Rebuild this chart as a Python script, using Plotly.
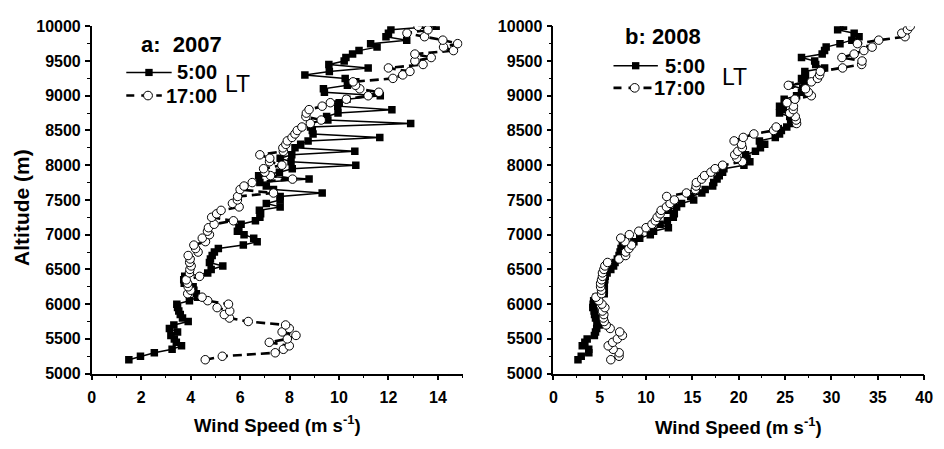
import plotly.graph_objects as go

altitude = [5200, 5250, 5300, 5350, 5400, 5450, 5500, 5550, 5600, 5650,
            5700, 5750, 5800, 5850, 5900, 5950, 6000, 6050, 6100, 6150,
            6200, 6250, 6300, 6350, 6400, 6450, 6500, 6550, 6600, 6650,
            6700, 6750, 6800, 6850, 6900, 6950, 7000, 7050, 7100, 7150,
            7200, 7250, 7300, 7350, 7400, 7450, 7500, 7550, 7600, 7650,
            7700, 7750, 7800, 7850, 7900, 7950, 8000, 8050, 8100, 8150,
            8200, 8250, 8300, 8350, 8400, 8450, 8500, 8550, 8600, 8650,
            8700, 8750, 8800, 8850, 8900, 8950, 9000, 9050, 9100, 9150,
            9200, 9250, 9300, 9350, 9400, 9450, 9500, 9550, 9600, 9650,
            9700, 9750, 9800, 9850, 9900, 9950, 10000]

# 2007, 5:00 LT
wind_2007_0500 = [1.50, 1.97, 2.53, 3.25, 3.63, 3.42, 3.34, 3.20, 3.47, 3.14,
                  3.32, 3.90, 3.67, 3.58, 3.52, 3.47, 3.44, 3.95, 4.28, 4.23,
                  4.13, 4.10, 3.74, 3.72, 3.76, 4.69, 4.83, 5.30, 4.76, 4.80,
                  4.87, 4.96, 5.12, 6.13, 6.69, 6.55, 6.16, 5.89, 5.95, 6.04,
                  6.62, 6.80, 6.83, 6.78, 7.62, 7.06, 7.62, 7.62, 9.32, 7.35,
                  7.06, 6.80, 8.79, 6.75, 7.59, 8.11, 10.68, 8.06, 7.62, 8.09,
                  10.64, 8.22, 8.45, 8.75, 11.65, 8.95, 8.92, 8.85, 12.90, 9.55,
                  9.50, 9.96, 12.14, 9.95, 10.01, 10.32, 11.67, 9.41, 9.37, 10.34,
                  10.68, 10.25, 8.62, 9.61, 11.18, 9.59, 10.21, 10.28, 10.55, 10.81,
                  11.54, 11.28, 12.74, 11.90, 12.00, 12.10, 13.93]

# 2007, 17:00 LT
wind_2007_1700 = [4.59, 5.28, 7.42, 7.75, 7.99, 7.18, 7.91, 8.26, 7.70, 7.99,
                  7.84, 6.33, 5.57, 5.36, 5.58, 5.07, 5.53, 4.69, 4.46, 3.88,
                  4.00, 3.90, 3.88, 3.82, 4.36, 3.95, 3.97, 4.02, 3.96, 3.98,
                  3.90, 4.30, 4.20, 4.13, 4.60, 4.47, 4.76, 4.68, 4.72, 4.95,
                  5.73, 4.85, 5.05, 5.23, 5.96, 5.69, 5.89, 5.90, 7.35, 6.00,
                  6.16, 6.49, 8.12, 7.23, 7.00, 6.95, 7.69, 7.19, 7.20, 6.80,
                  7.75, 7.73, 7.85, 7.91, 8.10, 8.22, 8.31, 8.50, 8.84, 9.28,
                  8.66, 8.68, 8.79, 9.32, 9.65, 10.30, 11.18, 11.61, 10.84, 10.67,
                  10.57, 12.18, 12.58, 12.87, 12.00, 13.40, 13.07, 13.73, 13.07, 14.63,
                  14.23, 14.80, 14.20, 13.46, 12.75, 13.60, 13.20]

# 2008, 5:00 LT
wind_2008_0500 = [2.66, 3.01, 3.83, 3.82, 3.12, 3.40, 3.65, 4.43, 4.55, 4.68,
                  4.96, 4.70, 4.55, 4.45, 4.40, 4.26, 4.30, 4.35, 4.60, 5.49,
                  5.50, 5.45, 5.50, 5.55, 5.60, 5.80, 6.20, 6.50, 6.66, 6.90,
                  7.09, 7.20, 7.30, 7.45, 8.69, 9.32, 10.46, 10.81, 12.41, 11.52,
                  12.30, 12.94, 13.05, 12.41, 13.30, 13.83, 15.14, 14.82, 16.02, 16.38,
                  17.19, 17.30, 17.66, 17.90, 18.26, 18.40, 20.56, 21.20, 20.90, 20.74,
                  21.80, 22.34, 22.80, 22.23, 23.94, 24.40, 24.60, 25.18, 25.70, 25.60,
                  25.50, 24.40, 24.80, 24.40, 25.00, 24.90, 26.24, 26.77, 26.90, 25.53,
                  27.13, 26.77, 27.20, 27.13, 29.26, 28.30, 28.19, 26.77, 29.00, 29.26,
                  29.43, 30.92, 32.20, 32.98, 32.45, 30.67, 31.30]

# 2008, 17:00 LT
wind_2008_1700 = [6.20, 7.09, 7.10, 6.45, 5.92, 6.40, 6.91, 7.45, 7.16, 6.13,
                  5.70, 5.49, 5.40, 5.45, 5.30, 5.56, 5.24, 4.90, 4.60, 5.20,
                  5.20, 5.10, 5.10, 5.20, 5.30, 5.30, 5.45, 5.56, 5.85, 7.09,
                  7.80, 7.80, 8.15, 8.44, 7.73, 7.27, 8.20, 9.22, 10.00, 10.64,
                  11.00, 11.20, 11.52, 11.63, 12.20, 12.59, 13.05, 12.23, 14.36, 15.32,
                  15.40, 15.43, 16.00, 16.31, 17.00, 17.45, 18.26, 20.39, 19.79, 19.57,
                  19.90, 20.39, 20.30, 19.50, 20.49, 21.63, 23.76, 24.04, 26.24, 26.20,
                  26.10, 25.50, 25.88, 25.90, 25.20, 26.06, 27.83, 27.50, 27.20, 25.35,
                  27.83, 28.50, 28.72, 28.80, 31.20, 33.26, 33.30, 31.13, 32.45, 33.50,
                  34.39, 32.80, 35.10, 37.94, 37.59, 38.20, 38.50]

series_names = ["5:00", "17:00"]
panel_titles = ["a:  2007", "b: 2008"]
time_unit = "LT"
x_title = "Wind Speed (m s<sup>-1</sup>)"
y_title = "Altitude (m)"

W, H = 944, 449
FONT = "Liberation Sans, Arial, sans-serif"

SOLID_LINE = dict(color="black", width=1.5)
DASH_LINE = dict(color="black", width=2.6, dash="9px,5px")

fig = go.Figure()

panels = [
    ("x", "y", wind_2007_0500, wind_2007_1700),
    ("x2", "y2", wind_2008_0500, wind_2008_1700),
]
for xa, ya, s5, s17 in panels:
    fig.add_trace(go.Scatter(
        x=s5, y=altitude, name=series_names[0], xaxis=xa, yaxis=ya,
        mode="lines+markers", line=SOLID_LINE, showlegend=False,
        marker=dict(symbol="square", size=7.5, color="black", line=dict(width=0))))
    fig.add_trace(go.Scatter(
        x=s17, y=altitude, name=series_names[1], xaxis=xa, yaxis=ya,
        mode="lines+markers", line=DASH_LINE, showlegend=False,
        marker=dict(symbol="circle", size=8.5, color="white",
                    line=dict(color="black", width=1))))


def fx(p):
    return p / W


def fy(p):
    return 1 - p / H


axis_common = dict(showline=True, linecolor="black", linewidth=1.6,
                   ticks="outside", ticklen=5, tickwidth=1.5, tickcolor="black",
                   showgrid=False, zeroline=False, mirror=False,
                   tickfont=dict(family=FONT, size=16, color="black", weight="bold"))
minor_common = dict(ticks="outside", ticklen=3, tickwidth=1.2, tickcolor="black",
                    showgrid=False)

ydom = [fy(380), fy(19)]
fig.update_layout(
    xaxis=dict(domain=[fx(89), fx(465)], range=[0, 15], dtick=2, tick0=0,
               ticklabelstandoff=3,
               minor=dict(dtick=1, **minor_common), anchor="y", **axis_common),
    yaxis=dict(domain=ydom, range=[5000, 10000], dtick=500, tick0=5000,
               tickformat="d", ticklabelstandoff=1,
               minor=dict(dtick=250, **minor_common), anchor="x", **axis_common),
    xaxis2=dict(domain=[fx(557), fx(933)], range=[0, 40], dtick=5, tick0=0,
                ticklabelstandoff=3,
                minor=dict(dtick=2.5, **minor_common), anchor="y2", **axis_common),
    yaxis2=dict(domain=ydom, range=[5000, 10000], dtick=500, tick0=5000,
                tickformat="d", ticklabelstandoff=1,
                minor=dict(dtick=250, **minor_common), anchor="x2", **axis_common),
)

shapes = []
annotations = []


def text(t, x, y, size, bold=True, xanchor="center", angle=0):
    f = dict(family=FONT, size=size, color="black")
    if bold:
        f["weight"] = "bold"
    annotations.append(dict(text=t, x=fx(x), y=fy(y), xref="paper", yref="paper",
                            showarrow=False, xanchor=xanchor, yanchor="middle",
                            textangle=angle, font=f))


# hand-drawn legends (one per panel), pixel layout
legend_specs = [
    dict(title=panel_titles[0], tx=137, ty=38, y5=67, y17=91, x0=124, x5=170,
         x17=160, xr=218, lt=(237, 79)),
    dict(title=panel_titles[1], tx=628, ty=30, y5=60, y17=83, x0=618, x5=663,
         x17=658, xr=713, lt=(741, 72)),
]
for spec in legend_specs:
    text(spec["title"], spec["tx"], spec["ty"], 22, xanchor="left")
    # 5:00 sample
    shapes.append(dict(type="line", xref="paper", yref="paper",
                       x0=fx(spec["x0"]), x1=fx(spec["x5"]),
                       y0=fy(spec["y5"]), y1=fy(spec["y5"]), line=SOLID_LINE))
    cx = (spec["x0"] + spec["x5"]) / 2
    shapes.append(dict(type="rect", xref="paper", yref="paper",
                       x0=fx(cx - 3.75), x1=fx(cx + 3.75),
                       y0=fy(spec["y5"] + 3.75), y1=fy(spec["y5"] - 3.75),
                       fillcolor="black", line=dict(width=0)))
    text(series_names[0], spec["xr"], spec["y5"], 20, xanchor="right")
    # 17:00 sample
    shapes.append(dict(type="line", xref="paper", yref="paper",
                       x0=fx(spec["x0"]), x1=fx(spec["x17"]),
                       y0=fy(spec["y17"]), y1=fy(spec["y17"]),
                       line=dict(color="black", width=2.6, dash="8px,7px")))
    cx2 = cx - 1
    shapes.append(dict(type="circle", xref="paper", yref="paper",
                       x0=fx(cx2 - 4.5), x1=fx(cx2 + 4.5),
                       y0=fy(spec["y17"] + 4.5), y1=fy(spec["y17"] - 4.5),
                       fillcolor="white", line=dict(color="black", width=1)))
    text(series_names[1], spec["xr"], spec["y17"], 20, xanchor="right")
    text(time_unit, spec["lt"][0], spec["lt"][1], 23, bold=False)

text(x_title, 277, 432, 18.5)
text(x_title, 745, 434, 18.5)
text(y_title, 17, 207, 21, angle=-90)

fig.update_layout(
    width=W, height=H,
    margin=dict(l=0, r=0, t=0, b=0),
    paper_bgcolor="white", plot_bgcolor="white",
    showlegend=False,
    shapes=shapes,
    annotations=annotations,
    font=dict(family=FONT, color="black"),
)

fig.write_html("out.html")
